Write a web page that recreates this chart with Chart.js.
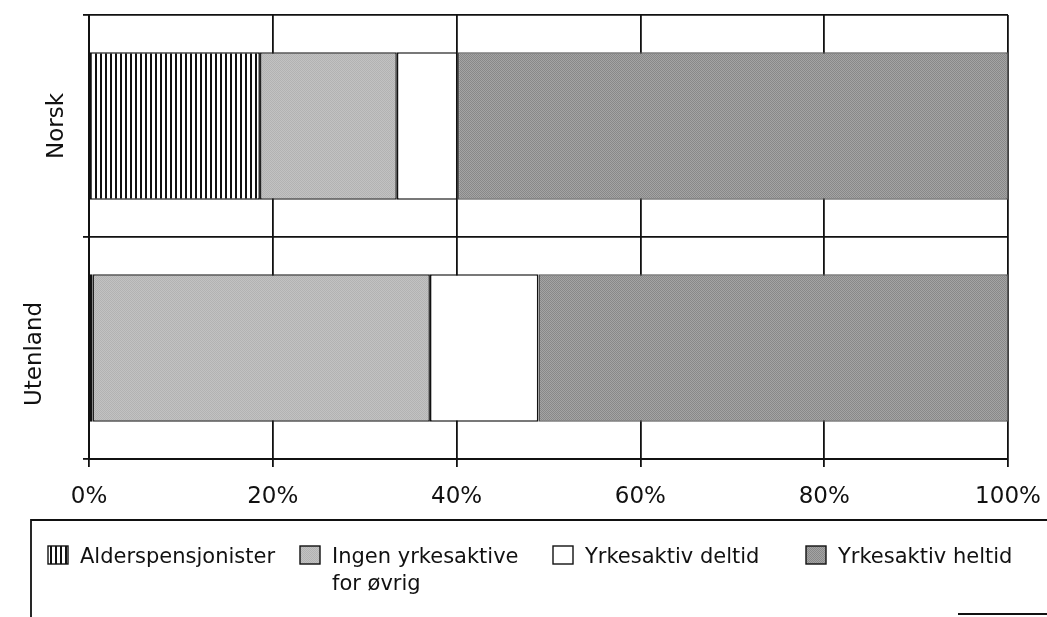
<!DOCTYPE html>
<html>
<head>
<meta charset="utf-8">
<script src="https://cdn.jsdelivr.net/npm/chart.js@4.4.1/dist/chart.umd.min.js"></script>
<style>
  html, body { margin: 0; padding: 0; background: #fff; }
  #wrap { width: 1047px; height: 617px; }
</style>
</head>
<body>
<div id="wrap"><canvas id="chart"></canvas></div>
<script>
// =====================================================
// DATA
// =====================================================

const categories = ["Norsk", "Utenland"];

const seriesNames = [
  "Alderspensjonister",
  ["Ingen yrkesaktive", "for øvrig"],
  "Yrkesaktiv deltid",
  "Yrkesaktiv heltid"
];

const alderspensjonister = [18.6, 0.4];
const ingenYrkesaktive = [14.9, 36.7];
const yrkesaktivDeltid = [6.6, 11.8];
const yrkesaktivHeltid = [59.9, 51.1];

const xTicks = [0, 20, 40, 60, 80, 100];

// =====================================================
// PATTERNS
// =====================================================

const canvas = document.getElementById("chart");
const ctx = canvas.getContext("2d");

function makePattern(w, h, draw) {
  const c = document.createElement("canvas");
  c.width = w;
  c.height = h;
  draw(c.getContext("2d"));
  return ctx.createPattern(c, "repeat");
}

const hatch = makePattern(5, 5, g => {
  g.fillStyle = "#ffffff";
  g.fillRect(0, 0, 5, 5);
  g.fillStyle = "#111111";
  g.fillRect(0, 0, 2, 5);
});

const lightDots = makePattern(2, 2, g => {
  g.fillStyle = "#b2b2b2";
  g.fillRect(0, 0, 2, 2);
  g.fillStyle = "#c2c2c2";
  g.fillRect(1, 0, 1, 1);
  g.fillRect(0, 1, 1, 1);
});

const darkDots = makePattern(2, 2, g => {
  g.fillStyle = "#888888";
  g.fillRect(0, 0, 2, 2);
  g.fillStyle = "#a4a4a4";
  g.fillRect(1, 0, 1, 1);
  g.fillRect(0, 1, 1, 1);
});

const fills = [hatch, lightDots, "#ffffff", darkDots];
const edges = ["#111111", "#222222", "#111111", "#555555"];

// =====================================================
// PLUGINS
// =====================================================

// rotated category names left of the bars
const categoryLabels = {
  id: "categoryLabels",
  afterDraw(chart, args, opts) {
    const g = chart.ctx;
    const y = chart.scales.y;
    g.save();
    g.fillStyle = "#111";
    g.font = "23px 'DejaVu Sans'";
    g.textAlign = "center";
    g.textBaseline = "alphabetic";
    categories.forEach((name, i) => {
      g.save();
      g.translate(opts.x[i], y.getPixelForValue(i) + opts.dy[i]);
      g.rotate(-Math.PI / 2);
      g.fillText(name, 0, 0);
      g.restore();
    });
    g.restore();
  }
};

// framed legend below the axis
const boxLegend = {
  id: "boxLegend",
  afterDraw(chart, args, opts) {
    const g = chart.ctx;
    g.save();
    g.strokeStyle = "#111";
    g.lineWidth = 1.8;
    g.beginPath();
    g.moveTo(opts.frameX, 617);
    g.lineTo(opts.frameX, opts.frameY);
    g.lineTo(1047, opts.frameY);
    g.stroke();
    g.beginPath();
    g.moveTo(958, 614);
    g.lineTo(1047, 614);
    g.stroke();

    g.font = "21px 'DejaVu Sans'";
    g.textBaseline = "alphabetic";
    g.textAlign = "left";
    chart.data.datasets.forEach((ds, i) => {
      const tx = opts.textX[i];
      const bx = tx - 32;
      const by = opts.baseline - 17;
      g.fillStyle = ds.backgroundColor;
      g.fillRect(bx, by, 20, 18);
      g.lineWidth = 1.4;
      g.strokeStyle = "#111";
      g.strokeRect(bx, by, 20, 18);
      g.fillStyle = "#111";
      const lines = Array.isArray(ds.label) ? ds.label : [ds.label];
      lines.forEach((t, k) => {
        g.fillText(t, tx, opts.baseline + k * 27);
      });
    });
    g.restore();
  }
};

// =====================================================
// CHART
// =====================================================

const seriesData = [
  alderspensjonister,
  ingenYrkesaktive,
  yrkesaktivDeltid,
  yrkesaktivHeltid
];

new Chart(canvas, {
  type: "bar",
  data: {
    labels: categories,
    datasets: seriesData.map((d, i) => ({
      label: seriesNames[i],
      data: d,
      backgroundColor: fills[i],
      borderColor: edges[i],
      borderWidth: 1.6,
      borderSkipped: false,
      categoryPercentage: 1,
      barPercentage: 0.665
    }))
  },
  options: {
    indexAxis: "y",
    responsive: true,
    maintainAspectRatio: false,
    animation: false,
    layout: {
      padding: { top: 15, right: 39, left: 0, bottom: 0 }
    },
    plugins: {
      legend: { display: false },
      tooltip: { enabled: false },
      categoryLabels: { x: [63, 41], dy: [0, 6] },
      boxLegend: { frameX: 31, frameY: 520, textX: [80, 332, 585, 838], baseline: 563 }
    },
    scales: {
      x: {
        type: "linear",
        stacked: true,
        min: 0,
        max: 100,
        afterBuildTicks: s => {
          s.ticks = xTicks.map(v => ({ value: v }));
        },
        afterFit: s => {
          s.height = 158;
          s.paddingLeft = 0;
          s.paddingRight = 0;
        },
        grid: {
          color: "#111",
          lineWidth: 1.8,
          tickLength: 8
        },
        border: { color: "#111", width: 2 },
        ticks: {
          padding: 16,
          color: "#111",
          font: { family: "'DejaVu Sans'", size: 23 },
          maxRotation: 0,
          callback: v => v + "%"
        }
      },
      y: {
        type: "category",
        stacked: true,
        afterFit: s => {
          s.width = 89;
        },
        grid: {
          color: "#111",
          lineWidth: 1.8,
          tickLength: 6
        },
        border: { color: "#111", width: 2 },
        ticks: { display: false }
      }
    }
  },
  plugins: [categoryLabels, boxLegend]
});
</script>
</body>
</html>
